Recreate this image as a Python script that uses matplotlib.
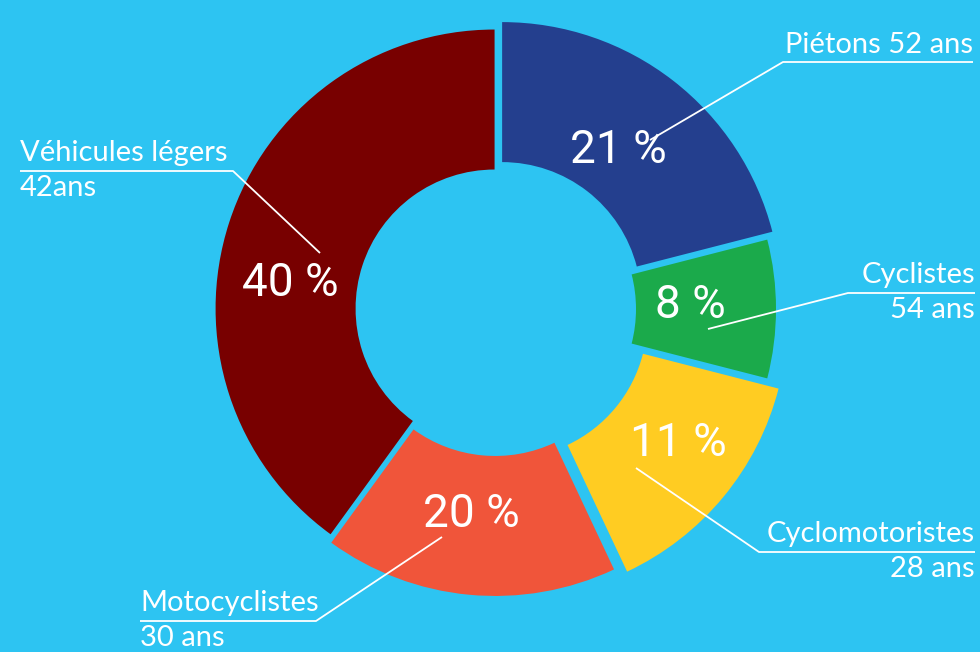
import matplotlib.pyplot as plt

labels = ["Piétons 52 ans", "Cyclistes\n54 ans", "Cyclomotoristes\n28 ans",
          "Motocyclistes\n30 ans", "Véhicules légers\n42ans"]
# slice sizes as drawn in the picture (the printed labels say 11 % and 20 %)
values = [21, 8, 14, 17, 40]
pct_labels = ["21 %", "8 %", "11 %", "20 %", "40 %"]
colors = ["#243F8E", "#1BAA4B", "#FFCC22", "#F0553A", "#780000"]
bg = "#2DC4F2"

H = 652

def py(y):
    # pixel y (from top) -> data y
    return H - y

fig = plt.figure(figsize=(9.8, 6.52), dpi=100, facecolor=bg)
ax = fig.add_axes([0, 0, 1, 1])
ax.set_facecolor(bg)

R = 279
cx, cy = 496, py(309)
ax.pie(values, colors=colors, startangle=90, counterclock=False, radius=R,
       center=(cx, cy), explode=[10, 1, 16, 8, 1.5],
       wedgeprops=dict(width=R - 139, linewidth=0))
ax.set_xlim(0, 980)
ax.set_ylim(0, H)
ax.set_aspect("equal")
ax.axis("off")

# percentage labels
pct_pos = [(618, 150), (690, 305), (678, 443), (471, 514), (290, 283)]
for t, (x, y) in zip(pct_labels, pct_pos):
    ax.text(x, py(y), t, color="white", fontsize=33, family="Roboto",
            ha="center", va="center")

# leader lines: start -> elbow -> end of underline
lines = [
    [(650, 140), (783, 62), (973, 62)],
    [(708, 329), (848, 293), (975, 293)],
    [(636, 468), (759, 552), (975, 552)],
    [(442, 537), (316, 621), (140, 621)],
    [(320, 253), (233, 171), (20, 171)],
]
for pts in lines:
    ax.plot([p[0] for p in pts], [py(p[1]) for p in pts], color="white", lw=1.3,
            solid_capstyle="butt")

# category labels (name above the line, age below)
txt_kw = dict(color="white", fontsize=21, family="Lato", va="baseline")
ax.text(973, py(53), labels[0], ha="right", **txt_kw)
for i, pts in enumerate(lines[1:], start=1):
    name, age = labels[i].split("\n")
    ex, ey = pts[2]
    ha = "right" if ex > 500 else "left"
    ax.text(ex, py(ey - 10), name, ha=ha, **txt_kw)
    ax.text(ex, py(ey + 25), age, ha=ha, **txt_kw)

fig.savefig("out.png", dpi=100, facecolor=bg)
